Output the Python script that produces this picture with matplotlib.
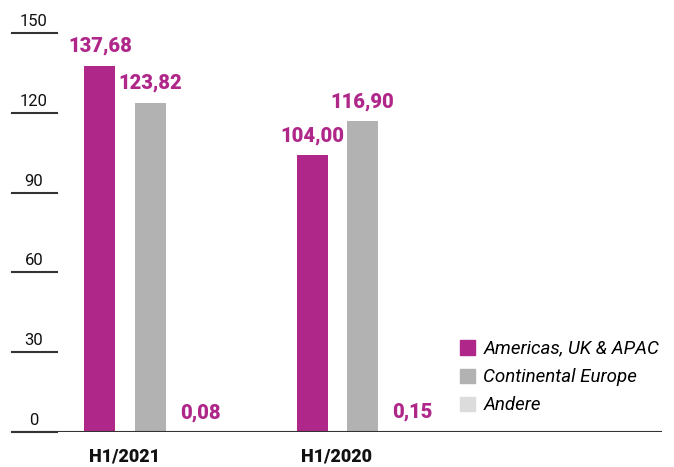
import matplotlib
matplotlib.use("Agg")
import matplotlib.pyplot as plt
from matplotlib.patches import Patch

categories = ["H1/2021", "H1/2020"]
series_names = ["Americas, UK & APAC", "Continental Europe", "Andere"]
americas = [137.68, 104.00]
europe = [123.82, 116.90]
andere = [0.08, 0.15]
value_labels = [["137,68", "104,00"], ["123,82", "116,90"], ["0,08", "0,15"]]
yticks = [0, 30, 60, 90, 120, 150]

colors = ["#B0278A", "#B2B2B2", "#DCDCDC"]
label_color = "#B0278A"

plt.rcParams['font.family'] = ['Roboto', 'DejaVu Sans']

fig = plt.figure(figsize=(6.74, 4.67), dpi=100)
ax = fig.add_axes([12/674, 35/467, 650/674, 399/467])

step = 50/212
width = 31/212
series = [americas, europe, andere]
for i, vals in enumerate(series):
    xs = [g + (i - 1) * step for g in range(len(categories))]
    bars = ax.bar(xs, vals, width=width, color=colors[i], zorder=2)
    for b, txt in zip(bars, value_labels[i]):
        ax.annotate(txt, (b.get_x() + b.get_width()/2, b.get_height()),
                    xytext=(0, 7), textcoords="offset points",
                    ha="center", va="bottom", color=label_color,
                    fontsize=14.5, fontweight="black")

ax.set_xlim((12-150)/212, (662-150)/212)
ax.set_ylim(0, 150)
for s in ax.spines.values():
    s.set_visible(False)
ax.set_xticks([])
ax.set_yticks([])

ax.axhline(0, color="#333333", lw=1.5, zorder=3)
for t in yticks:
    ax.plot([0, 45/650], [t, t], transform=ax.get_yaxis_transform(),
            color="#333333", lw=1.5, clip_on=False)
    ax.text(22/650, t + 1.5, str(t), transform=ax.get_yaxis_transform(),
            ha="center", va="bottom", fontsize=12, color="#111111")

for g, c in enumerate(categories):
    ax.text(g - step/2, -6.0, c, ha="center", va="top",
            fontsize=13, fontweight="black", color="#111111", clip_on=False)

handles = [Patch(color=col, label=n) for col, n in zip(colors, series_names)]
leg = fig.legend(handles=handles, loc="upper left",
                 bbox_to_anchor=(443/674, 1 - 323/467), frameon=False,
                 prop={"style": "italic", "size": 13.5},
                 handlelength=0.8, handleheight=0.8, handletextpad=0.45,
                 labelspacing=0.55)

fig.savefig("out.png", dpi=100)
